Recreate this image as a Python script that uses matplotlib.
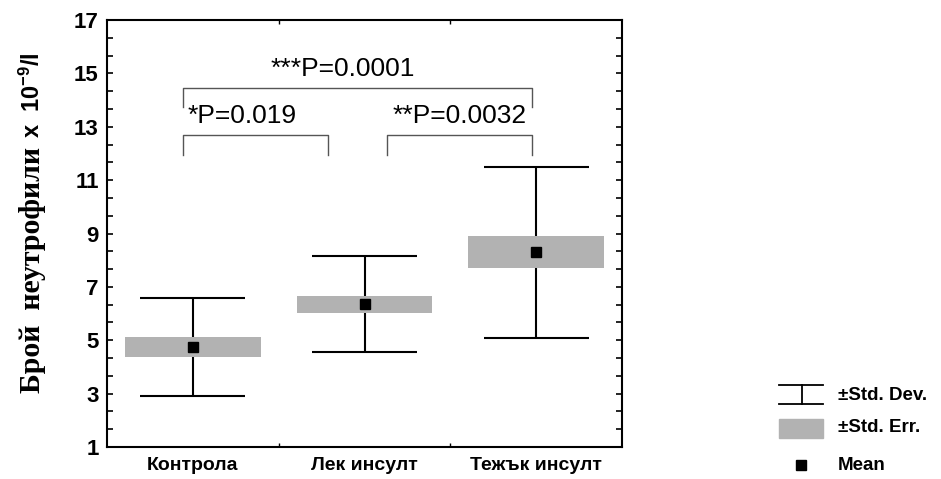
import numpy as np
import matplotlib
matplotlib.use("Agg")
import matplotlib.pyplot as plt
from matplotlib import font_manager
from matplotlib.patches import Rectangle
from matplotlib.lines import Line2D

groups = ["Контрола", "Лек инсулт", "Тежък инсулт"]
means = [4.75, 6.35, 8.30]
std_err = [0.36, 0.32, 0.60]
std_dev = [1.84, 1.80, 3.20]

# significance brackets: (x left, x right, foot, top, label, label x, label y)
brackets = [
    (0.943, 1.787, 11.94, 12.69, "*P=0.019", 1.289, 13.42),
    (2.131, 2.974, 11.94, 12.69, "**P=0.0032", 2.553, 13.42),
    (0.943, 2.974, 13.74, 14.45, "***P=0.0001", 1.875, 15.18),
]


def pick(*names):
    have = {f.name for f in font_manager.fontManager.ttflist}
    for n in names:
        if n in have:
            return n
    return "DejaVu Sans"


NARROW = pick("Liberation Sans Narrow", "Arial Narrow", "Liberation Sans")
SANS = pick("Liberation Sans", "Arial", "DejaVu Sans")
SERIF = pick("Liberation Serif", "Times New Roman", "DejaVu Serif")
plt.rcParams["mathtext.default"] = "regular"

fig = plt.figure(figsize=(9.41, 4.79), dpi=100)
ax = fig.add_axes([107 / 941, 32 / 479, 515 / 941, 427 / 479])

x = np.arange(1, len(groups) + 1)
box_w = 0.79
cap_w = 0.61

for xi, m, se, sd in zip(x, means, std_err, std_dev):
    ax.vlines(xi, m - sd, m + sd, color="black", lw=1.5, zorder=2)
    ax.hlines([m - sd, m + sd], xi - cap_w / 2, xi + cap_w / 2, color="black", lw=1.5, zorder=2)
ax.bar(x, [2 * s for s in std_err], bottom=[m - s for m, s in zip(means, std_err)],
       width=box_w, color="#b2b2b2", zorder=3)
ax.plot(x, means, "s", color="black", ms=7.5, zorder=4)

for x0, x1, y0, y1, label, tx, ty in brackets:
    ax.plot([x0, x0, x1, x1], [y0, y1, y1, y0], color="#555555", lw=1.0, zorder=2)
    ax.text(tx, ty, label, ha="center", va="center", fontsize=19, family=NARROW)

ax.set_xlim(0.5, 3.5)
ax.set_ylim(1, 17)
ax.set_yticks(np.arange(1, 18, 2))
ax.set_yticks(np.arange(1, 17.01, 2 / 3), minor=True)
ax.set_xticks([1.5, 2.5])
ax.set_xticklabels([])
ax.set_xticks(x, minor=True)
ax.set_xticklabels(groups, minor=True, fontsize=14, fontweight="bold", family=NARROW)
ax.tick_params(axis="x", which="minor", length=0, pad=7)
ax.tick_params(axis="x", which="major", direction="in", length=3, top=True, width=1)
ax.tick_params(axis="y", which="both", direction="in", length=4, right=True, width=1.2)
ax.tick_params(axis="y", which="major", labelsize=16, pad=6)
for t in ax.get_yticklabels():
    t.set_fontweight("bold")
    t.set_family(SANS)
for s in ax.spines.values():
    s.set_linewidth(1.5)

# y-axis label: serif words followed by the sans unit
ylab1 = fig.text(32 / 941, 1 - 393 / 479, "Брой  неутрофили", rotation=90,
                 rotation_mode="anchor", ha="left", va="center",
                 fontsize=21.5, fontweight="bold", family=SERIF)
fig.canvas.draw()
bb = ylab1.get_window_extent()
fig.text(32 / 941, (bb.y1 + 9) / 479, "x  10$^{-9}$/l", rotation=90,
         rotation_mode="anchor", ha="left", va="center",
         fontsize=17, fontweight="bold", family=SANS)

# legend
lx0, lx1 = 779 / 941, 823 / 941
lxm = 802 / 941
fig.add_artist(Line2D([lx0, lx1], [1 - 385 / 479] * 2, color="black", lw=1.3))
fig.add_artist(Line2D([lx0, lx1], [1 - 404 / 479] * 2, color="black", lw=1.3))
fig.add_artist(Line2D([lxm, lxm], [1 - 404 / 479, 1 - 385 / 479], color="black", lw=1.3))
fig.add_artist(Rectangle((lx0, 1 - 438 / 479), lx1 - lx0, 19 / 479, color="#b2b2b2"))
fig.add_artist(Line2D([801 / 941], [1 - 465 / 479], marker="s", color="black", ms=6.5, lw=0))
for yy, lab in [(395, "±Std. Dev."), (428, "±Std. Err."), (465, "Mean")]:
    fig.text(838 / 941, 1 - yy / 479, lab, ha="left", va="center",
             fontsize=13.5, fontweight="bold", family=SANS)

fig.savefig("out.png", dpi=100)
